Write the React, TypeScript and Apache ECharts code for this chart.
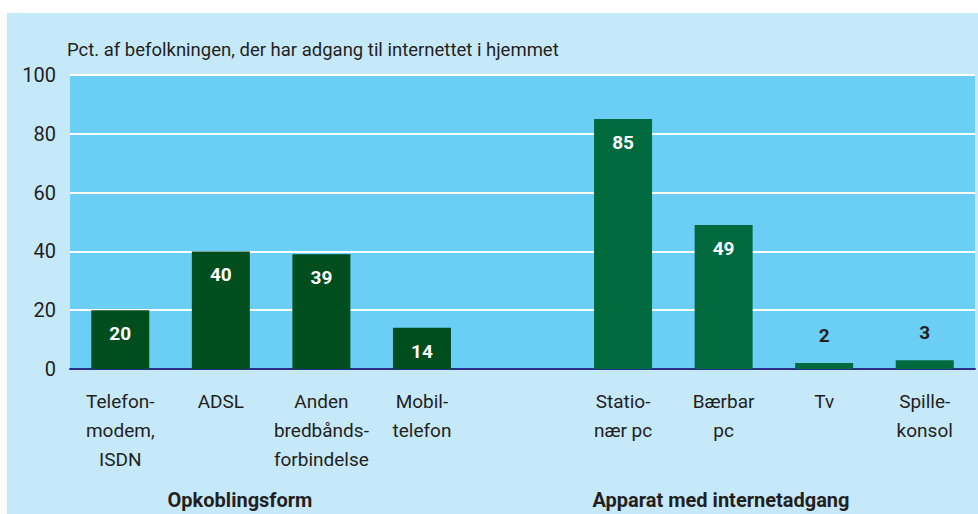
import React, { useEffect, useRef } from "react";
import * as echarts from "echarts";

const categories = [
  "Telefon-\nmodem,\nISDN",
  "ADSL",
  "Anden\nbredbånds-\nforbindelse",
  "Mobil-\ntelefon",
  "",
  "Statio-\nnær pc",
  "Bærbar\npc",
  "Tv",
  "Spille-\nkonsol",
];
const values: (number | null)[] = [20, 40, 39, 14, null, 85, 49, 2, 3];
const groupIndex = [0, 0, 0, 0, -1, 1, 1, 1, 1];
const groupNames = ["Opkoblingsform", "Apparat med internetadgang"];
const yTicks = [0, 20, 40, 60, 80, 100];
const title = "Pct. af befolkningen, der har adgang til internettet i hjemmet";

const FONT = "'Roboto', sans-serif";
const TEXT = "#231f20";
const groupColors = ["#004d1e", "#006a3f"];

export default function App() {
  const ref = useRef<HTMLDivElement>(null);
  useEffect(() => {
    document.body.style.margin = "0";
    const chart = echarts.init(ref.current!, undefined, { renderer: "svg" });
    const data = values.map((v, i) => {
      if (v === null) return "-";
      const small = v < 8;
      return {
        value: v,
        itemStyle: { color: groupColors[groupIndex[i]] },
        label: small
          ? { position: "top", color: TEXT, distance: 18 }
          : { position: "insideTop", color: "#ffffff", distance: 14 },
      };
    });
    chart.setOption({
      animation: false,
      textStyle: { fontFamily: FONT },
      graphic: [
        {
          type: "rect",
          z: -10,
          shape: { x: 7, y: 13, width: 971, height: 501 },
          style: { fill: "#c6e9f9" },
        },
        {
          type: "text",
          x: 67,
          y: 50,
          style: {
            text: title,
            font: `18.5px ${FONT}`,
            fill: TEXT,
            textVerticalAlign: "middle",
          },
        },
        {
          type: "text",
          x: 240,
          y: 500,
          style: {
            text: groupNames[0],
            font: `bold 20px ${FONT}`,
            fill: TEXT,
            textAlign: "center",
            textVerticalAlign: "middle",
          },
        },
        {
          type: "text",
          x: 721,
          y: 500,
          style: {
            text: groupNames[1],
            font: `bold 20px ${FONT}`,
            fill: TEXT,
            textAlign: "center",
            textVerticalAlign: "middle",
          },
        },
      ],
      grid: {
        left: 70,
        right: 3,
        top: 75,
        bottom: 145,
        show: true,
        backgroundColor: "#6bcff5",
        borderWidth: 0,
      },
      xAxis: {
        type: "category",
        data: categories,
        axisLine: { show: true, lineStyle: { color: "#2b2f8c", width: 2 } },
        axisTick: { show: false },
        axisLabel: {
          interval: 0,
          color: TEXT,
          fontSize: 19,
          lineHeight: 29,
          margin: 18,
          fontFamily: FONT,
          verticalAlign: "top",
        },
      },
      yAxis: {
        type: "value",
        min: yTicks[0],
        max: yTicks[yTicks.length - 1],
        interval: 20,
        axisLine: { show: false },
        axisTick: { show: false },
        splitLine: { lineStyle: { color: "#ffffff", width: 2 } },
        axisLabel: { color: TEXT, fontSize: 20, margin: 14, fontFamily: FONT },
      },
      series: [
        {
          type: "bar",
          data,
          barWidth: 58,
          label: {
            show: true,
            fontSize: 19,
            fontWeight: "bold",
            fontFamily: FONT,
          },
        },
      ],
    });
    return () => chart.dispose();
  }, []);
  return (
    <div
      ref={ref}
      style={{ position: "absolute", left: 0, top: 0, width: 978, height: 514 }}
    />
  );
}
